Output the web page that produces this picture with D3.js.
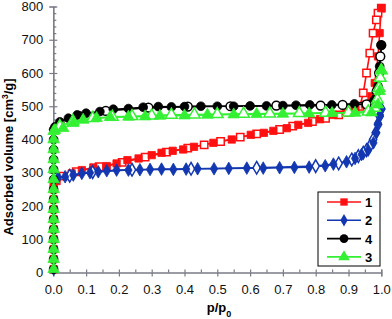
<!DOCTYPE html>
<html>
<head>
<meta charset="utf-8">
<script src="https://cdn.jsdelivr.net/npm/d3@7"></script>
<style>
  body { margin: 0; background: #fff; }
  text { font-family: "Liberation Sans", Arial, sans-serif; }
</style>
</head>
<body>
<div id="chart"></div>
<script>
// vertical rise near p/p0 = 0
const riseP = 0.001;
const riseV = [10, 40, 70, 100, 130, 160, 190, 220, 250];

// series 1 (red squares)
const s1AdsP = [0.01, 0.056, 0.087, 0.122, 0.163, 0.193, 0.226, 0.26, 0.30, 0.33, 0.364, 0.396, 0.429, 0.488, 0.544, 0.602, 0.642, 0.671, 0.712, 0.747, 0.777, 0.813, 0.854, 0.892, 0.92, 0.95, 0.97, 0.98, 0.99, 0.995, 1.0];
const s1AdsV = [275, 298, 308, 316, 320, 328, 338, 343, 353, 360, 366, 370, 378, 390, 400, 414, 420, 426, 434, 444, 450, 461, 474, 483, 490, 505, 530, 570, 650, 720, 795];
const s1DesP = [1.0, 0.99, 0.985, 0.975, 0.965, 0.955, 0.945, 0.935, 0.92, 0.9, 0.87, 0.83, 0.79, 0.73, 0.69, 0.62, 0.57, 0.51, 0.46, 0.41, 0.345, 0.28, 0.21, 0.14, 0.07, 0.03];
const s1DesV = [795, 780, 760, 720, 660, 600, 540, 500, 490, 482, 474, 464, 454, 440, 430, 417, 407, 394, 384, 374, 362, 347, 331, 318, 303, 290];

// series 2 (blue diamonds)
const s2AdsP = [0.015, 0.036, 0.061, 0.087, 0.112, 0.137, 0.163, 0.193, 0.229, 0.264, 0.295, 0.33, 0.366, 0.405, 0.44, 0.49, 0.535, 0.59, 0.64, 0.69, 0.735, 0.78, 0.829, 0.854, 0.894, 0.92, 0.94, 0.96, 0.976, 0.985, 0.99, 0.996, 1.0];
const s2AdsV = [286, 288, 293, 298, 300, 303, 306, 308, 308, 309, 310, 311, 310, 311, 312, 312, 313, 314, 314, 315, 316, 317, 321, 326, 333, 343, 355, 368, 390, 420, 449, 474, 492];
const s2DesP = [1.0, 0.995, 0.99, 0.983, 0.975, 0.965, 0.955, 0.945, 0.93, 0.91, 0.87, 0.80, 0.62, 0.42, 0.24, 0.12, 0.05];
const s2DesV = [492, 470, 445, 420, 400, 380, 368, 360, 350, 340, 328, 320, 315, 312, 309, 302, 291];

// series 4 (black circles)
const s4AdsP = [0.001, 0.001, 0.001, 0.001, 0.001, 0.001, 0.005, 0.02, 0.046, 0.073, 0.10, 0.142, 0.183, 0.229, 0.274, 0.32, 0.36, 0.40, 0.45, 0.50, 0.55, 0.60, 0.65, 0.70, 0.74, 0.782, 0.849, 0.918, 0.98, 0.99, 0.995, 1.0];
const s4AdsV = [280, 310, 340, 370, 400, 430, 438, 453, 464, 474, 479, 484, 491, 493, 497, 499, 498, 499, 500, 500, 500, 501, 501, 502, 503, 504, 504, 507, 519, 560, 620, 684];
const s4DesP = [1.0, 0.997, 0.993, 0.986, 0.955, 0.882, 0.815, 0.68, 0.54, 0.41, 0.29, 0.16, 0.08];
const s4DesV = [684, 650, 600, 545, 506, 504, 502, 502, 500, 499, 496, 486, 470];

// series 3 (green triangles)
const s3AdsP = [0.001, 0.001, 0.001, 0.001, 0.001, 0.001, 0.005, 0.03, 0.061, 0.091, 0.132, 0.173, 0.229, 0.28, 0.325, 0.40, 0.47, 0.55, 0.62, 0.70, 0.78, 0.85, 0.92, 0.97, 0.99, 0.995, 1.0];
const s3AdsV = [280, 310, 340, 370, 400, 425, 428, 434, 449, 459, 464, 467, 468, 469, 471, 472, 474, 475, 476, 477, 478, 479, 480, 481, 505, 545, 608];
const s3DesP = [1.0, 0.997, 0.993, 0.988, 0.98, 0.96, 0.9, 0.83, 0.75, 0.66, 0.58, 0.5, 0.43, 0.36, 0.3, 0.24, 0.18, 0.12, 0.06, 0.02];
const s3DesV = [608, 585, 555, 520, 495, 484, 481, 480, 479, 478, 477, 476, 475, 474, 472, 470, 468, 464, 455, 440];

const xTicks = [0, 0.1, 0.2, 0.3, 0.4, 0.5, 0.6, 0.7, 0.8, 0.9, 1.0];
const yTicks = [0, 100, 200, 300, 400, 500, 600, 700, 800];

const W = 392, H = 319;
const svg = d3.select("#chart").append("svg").attr("width", W).attr("height", H);

const x = d3.scaleLinear().domain([0, 1]).range([53.3, 381.3]);
const y = d3.scaleLinear().domain([0, 800]).range([272.5, 6.5]);

const axisColor = "#7a7a88";

// axes: major ticks cross the line, minor ticks point inside
svg.append("g").attr("transform", `translate(${x(0)},0)`)
  .call(d3.axisLeft(y).tickValues(yTicks).tickSize(4).tickPadding(6).tickFormat(d3.format("d")));
svg.append("g").attr("transform", `translate(${x(0)},0)`)
  .call(d3.axisRight(y).tickValues(d3.range(0, 801, 20)).tickSize(3).tickFormat(""))
  .call(g => g.selectAll(".tick line").attr("x2", d => d % 100 === 0 ? 4 : 3));
svg.append("g").attr("transform", `translate(0,${y(0)})`)
  .call(d3.axisBottom(x).tickValues(xTicks).tickSize(4).tickPadding(8).tickFormat(d3.format(".1f")));
svg.append("g").attr("transform", `translate(0,${y(0)})`)
  .call(d3.axisTop(x).tickValues(d3.range(0, 21).map(i => i / 20)).tickSize(3).tickFormat(""));

svg.selectAll(".domain").attr("stroke", axisColor).attr("stroke-width", 1.2);
svg.selectAll(".tick line").attr("stroke", axisColor).attr("stroke-width", 1.2);
svg.selectAll(".tick text").attr("font-size", 13).attr("fill", "#111")
  .style("font-family", "'Liberation Sans', Arial, sans-serif");

// axis titles
svg.append("text")
  .attr("transform", "translate(13,157) rotate(-90)")
  .attr("text-anchor", "middle").attr("font-size", 13).attr("font-weight", "bold")
  .html('Adsorbed volume [cm<tspan baseline-shift="super" font-size="8.5">3</tspan>/g]');
svg.append("text")
  .attr("x", 219).attr("y", 312)
  .attr("text-anchor", "middle").attr("font-size", 13).attr("font-weight", "bold")
  .html('p/p<tspan baseline-shift="sub" font-size="9">0</tspan>');

const line = d3.line().x(d => x(d[0])).y(d => y(d[1]));
const zip = (ps, vs) => ps.map((p, i) => [p, vs[i]]);

const series = [
  { name: "1", color: "#ff1010", shape: d3.symbolSquare, size: 54,
    rise: riseV.concat([270]), ads: zip(s1AdsP, s1AdsV), des: zip(s1DesP, s1DesV) },
  { name: "2", color: "#1237b0", shape: d3.symbolDiamond, size: 46,
    rise: riseV.concat([280]), ads: zip(s2AdsP, s2AdsV), des: zip(s2DesP, s2DesV) },
  { name: "4", color: "#000000", shape: d3.symbolCircle, size: 60,
    rise: riseV, ads: zip(s4AdsP, s4AdsV), des: zip(s4DesP, s4DesV) },
  { name: "3", color: "#33f033", shape: d3.symbolTriangle, size: 58,
    rise: riseV, ads: zip(s3AdsP, s3AdsV), des: zip(s3DesP, s3DesV) }
];

series.forEach(s => {
  const g = svg.append("g");
  const ads = s.rise.map(v => [riseP, v]).concat(s.ads);
  g.append("path").attr("d", line(ads)).attr("fill", "none")
    .attr("stroke", s.color).attr("stroke-width", 1.6);
  g.append("path").attr("d", line(s.des)).attr("fill", "none")
    .attr("stroke", s.color).attr("stroke-width", 1.6);
  const sym = d3.symbol().type(s.shape).size(s.size);
  g.selectAll("path.des").data(s.des).join("path").attr("class", "des")
    .attr("transform", d => `translate(${x(d[0])},${y(d[1])})`)
    .attr("d", sym).attr("fill", "#fff").attr("stroke", s.color).attr("stroke-width", 1.5);
  g.selectAll("path.ads").data(ads).join("path").attr("class", "ads")
    .attr("transform", d => `translate(${x(d[0])},${y(d[1])})`)
    .attr("d", sym).attr("fill", s.color).attr("stroke", s.color).attr("stroke-width", 0.8);
});

// legend
const lg = svg.append("g").attr("transform", "translate(318,192)");
lg.append("rect").attr("width", 62).attr("height", 74)
  .attr("fill", "#fff").attr("stroke", "#000").attr("stroke-width", 1);
series.forEach((s, i) => {
  const ly = 10 + i * 18.3;
  lg.append("line").attr("x1", 9).attr("x2", 43).attr("y1", ly).attr("y2", ly)
    .attr("stroke", s.color).attr("stroke-width", 1.6);
  lg.append("path").attr("transform", `translate(26,${ly})`)
    .attr("d", d3.symbol().type(s.shape).size(s.size)()).attr("fill", s.color);
  lg.append("text").attr("x", 47).attr("y", ly + 5).attr("font-size", 13)
    .attr("font-weight", "bold").text(s.name);
});
</script>
</body>
</html>
